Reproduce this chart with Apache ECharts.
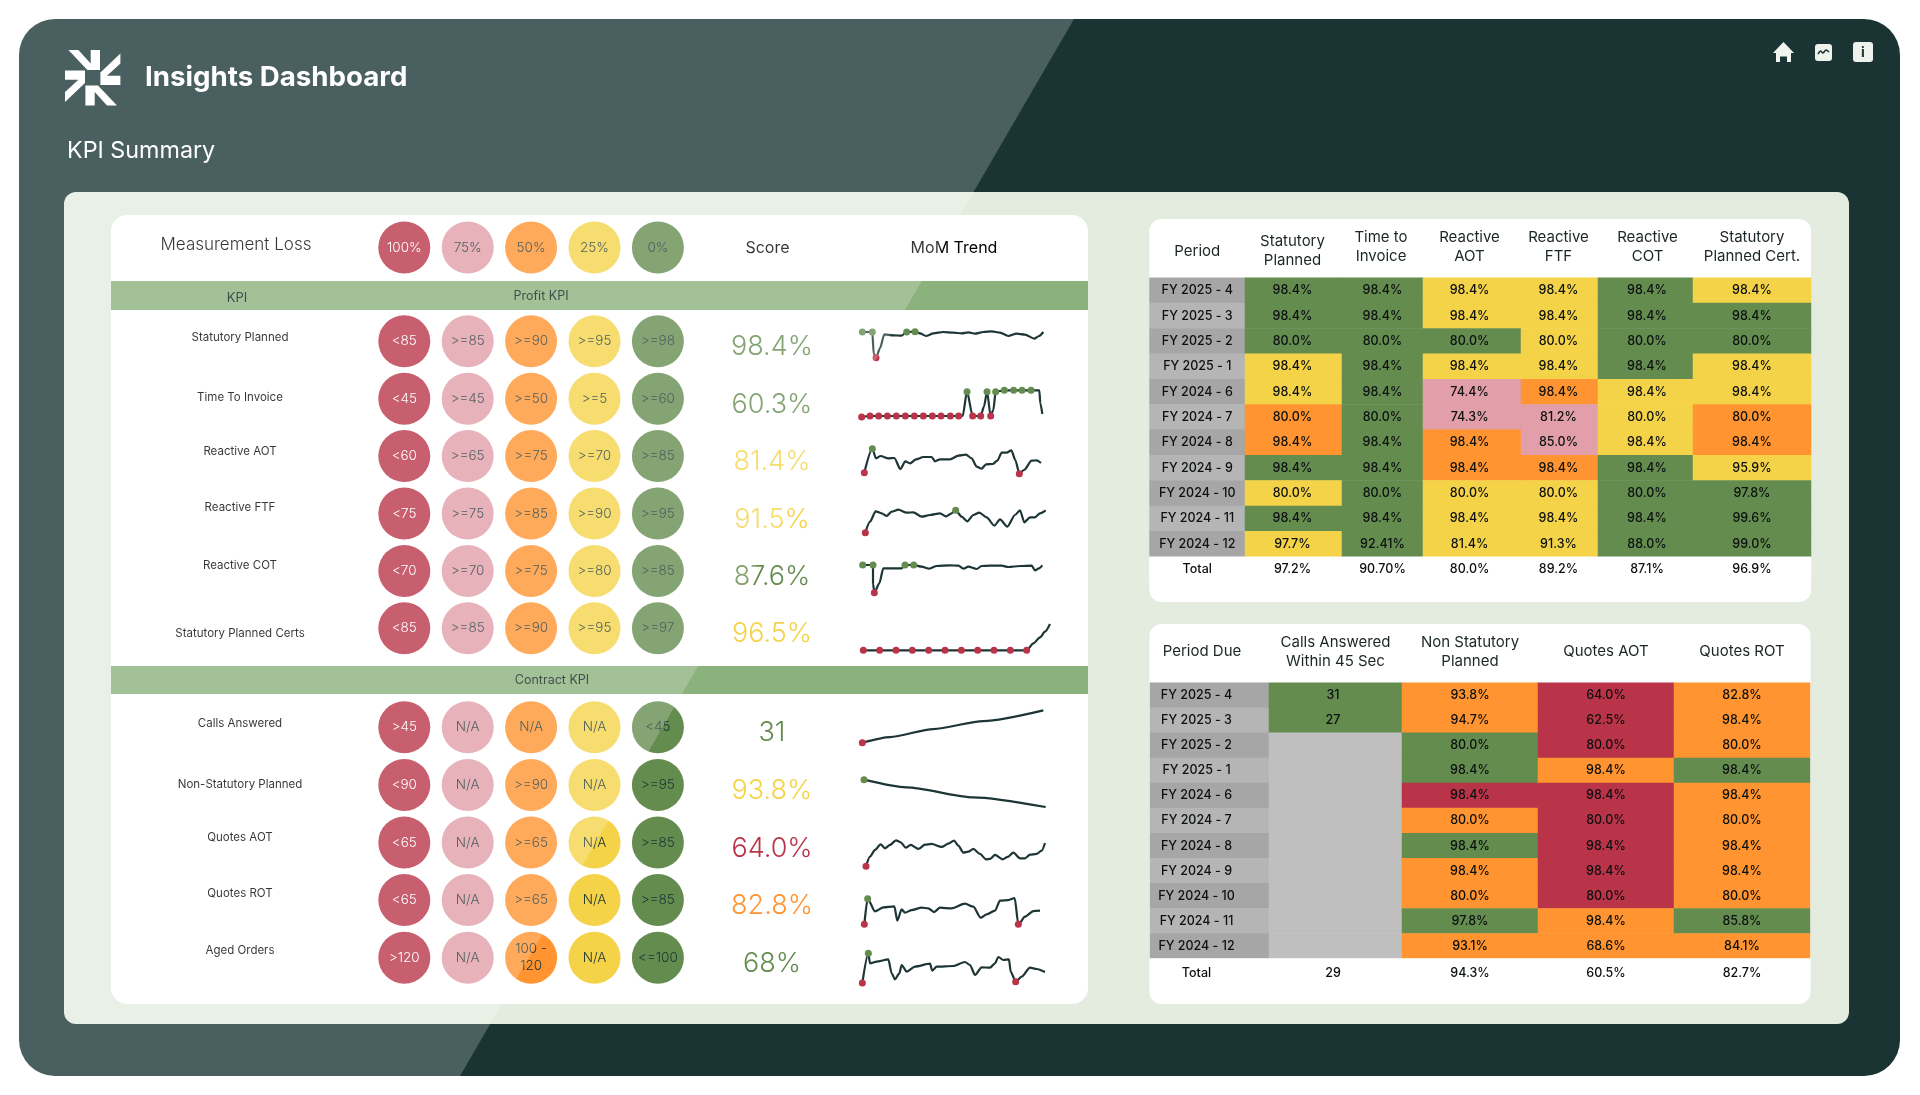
<!DOCTYPE html>
<html><head><meta charset="utf-8"><title>Insights Dashboard</title>
<style>html,body{margin:0;padding:0;background:#fff}#c{width:1920px;height:1095px}</style>
<script src="https://cdn.jsdelivr.net/npm/echarts@6/dist/echarts.min.js"></script></head>
<body><div id="c"></div>
<script>
// ---------- values ----------
const levels = ['100%','75%','50%','25%','0%'];
const profitKpis = ['Statutory Planned','Time To Invoice','Reactive AOT','Reactive FTF','Reactive COT','Statutory Planned Certs'];
const contractKpis = ['Calls Answered','Non-Statutory Planned','Quotes AOT','Quotes ROT','Aged Orders'];
const profitBands = [
 ['<85','>=85','>=90','>=95','>=98'],['<45','>=45','>=50','>=5','>=60'],['<60','>=65','>=75','>=70','>=85'],
 ['<75','>=75','>=85','>=90','>=95'],['<70','>=70','>=75','>=80','>=85'],['<85','>=85','>=90','>=95','>=97']];
const contractBands = [
 ['>45','N/A','N/A','N/A','<45'],['<90','N/A','>=90','N/A','>=95'],['<65','N/A','>=65','N/A','>=85'],
 ['<65','N/A','>=65','N/A','>=85'],['>120','N/A','100 -\n120','N/A','<=100']];
const profitScores = ['98.4%','60.3%','81.4%','91.5%','87.6%','96.5%'];
const profitScoreStatus = ['G','G','Y','Y','G','Y'];
const contractScores = ['31','93.8%','64.0%','82.8%','68%'];
const contractScoreStatus = ['G','Y','R','O','G'];

// trend points: [period position, reading, flag] (flag 1 = low marker, 2 = high marker)
const trendStatutory = [[67,84,2],[97,84,2],[101,20],[108,7,1],[120,35],[133,77],[160,74],[185,73],[200,84,2],[225,85,2],[240,80],[258,72],[280,80],[310,84],[340,82],[365,80],[385,83],[405,79],[430,84],[455,86],[480,82],[505,72],[530,79],[555,76],[583,64],[597,72],[610,84]];
const trendInvoice = [[65,9,1],[90,12,1],[116,12,1],[142,12,1],[169,12,1],[196,12,1],[223,12,1],[250,12,1],[277,12,1],[303,12,1],[331,12,1],[356,12,1],[368,12],[381,85,2],[398,12,1],[422,12,1],[432,40],[441,85,2],[452,12,1],[460,30],[467,85,2],[493,89,2],[521,89,2],[546,89,2],[573,89,2],[598,89],[601,50],[607,18]];
const trendAot = [[73,7,1],[97,79,2],[108,50],[122,57],[145,50],[163,51],[181,18],[196,41],[210,35],[228,47],[250,54],[275,54],[285,41],[300,47],[330,47],[355,58],[378,61],[395,50],[410,25],[425,19],[438,32],[458,33],[472,43],[485,67],[500,67],[514,74],[526,45],[538,4,1],[552,15],[575,43],[590,44],[603,36]];
const trendFtf = [[76,7,1],[90,40],[107,71],[125,65],[140,57],[155,70],[175,76],[200,67],[220,68],[245,55],[270,60],[300,65],[318,56],[335,65],[347,74,2],[365,55],[382,41],[400,60],[418,67],[440,53],[463,28],[480,47],[502,25],[525,60],[540,74],[553,38],[570,53],[585,53],[600,65],[617,74]];
const trendCot = [[68,90,2],[99,90,2],[99,35],[103,7,1],[118,35],[130,80],[185,80],[195,90,2],[221,90,2],[245,85],[268,79],[290,87],[330,89],[355,88],[370,79],[385,85],[410,78],[425,87],[450,88],[485,88],[505,84],[540,87],[575,88],[585,74],[597,80],[607,89]];
const trendCerts = [[70,4,1],[119,4,1],[168,4,1],[217,4,1],[266,4,1],[315,4,1],[364,4,1],[413,4,1],[462,4,1],[511,4,1],[560,4,1],[580,25],[600,43],[615,60],[630,83]];
const trendCalls = [[67,12,1],[150,29],[280,53],[430,77],[610,109]];
const trendNonStat = [[72,86,2],[200,63],[400,33],[617,4]];
const trendQuotesAot = [[78,6,1],[90,35],[105,55],[122,72],[135,60],[150,70],[168,84],[182,78],[197,62],[212,70],[235,58],[255,71],[275,73],[305,64],[325,74],[342,83],[355,68],[370,47],[385,50],[400,58],[420,43],[438,27],[450,28],[465,40],[488,27],[503,34],[520,47],[540,30],[555,30],[570,41],[590,43],[605,53],[615,76]];
const trendQuotesRot = [[73,7,1],[83,84,2],[105,46],[130,58],[163,61],[172,18],[185,52],[195,42],[215,50],[245,57],[265,55],[282,44],[300,57],[335,55],[375,69],[400,60],[422,27],[440,37],[465,48],[480,78],[505,80],[524,86],[535,7,1],[555,30],[580,47],[600,48]];
const trendAged = [[67,6,1],[85,95,2],[90,65],[110,70],[145,77],[155,35],[165,17],[178,35],[185,60],[200,40],[225,55],[270,64],[277,43],[290,55],[340,57],[375,69],[390,60],[405,30],[425,53],[450,52],[465,65],[475,84],[490,75],[507,77],[512,40],[527,10,1],[545,25],[570,52],[590,48],[615,39]];

const periods = ['FY 2025 - 4','FY 2025 - 3','FY 2025 - 2','FY 2025 - 1','FY 2024 - 6','FY 2024 - 7','FY 2024 - 8','FY 2024 - 9','FY 2024 - 10','FY 2024 - 11','FY 2024 - 12','Total'];

const statPlannedVals = ['98.4%','98.4%','80.0%','98.4%','98.4%','80.0%','98.4%','98.4%','80.0%','98.4%','97.7%','97.2%'];
const invoiceVals = ['98.4%','98.4%','80.0%','98.4%','98.4%','80.0%','98.4%','98.4%','80.0%','98.4%','92.41%','90.70%'];
const aotVals = ['98.4%','98.4%','80.0%','98.4%','74.4%','74.3%','98.4%','98.4%','80.0%','98.4%','81.4%','80.0%'];
const ftfVals = ['98.4%','98.4%','80.0%','98.4%','98.4%','81.2%','85.0%','98.4%','80.0%','98.4%','91.3%','89.2%'];
const cotVals = ['98.4%','98.4%','80.0%','98.4%','98.4%','80.0%','98.4%','98.4%','80.0%','98.4%','88.0%','87.1%'];
const certVals = ['98.4%','98.4%','80.0%','98.4%','98.4%','80.0%','98.4%','95.9%','97.8%','99.6%','99.0%','96.9%'];
const statPlannedStatus = ['G','G','G','Y','Y','O','O','G','Y','G','Y','T'];
const invoiceStatus = ['G','G','G','G','G','G','G','G','G','G','G','T'];
const aotStatus = ['Y','Y','G','Y','P','P','O','O','Y','Y','Y','T'];
const ftfStatus = ['Y','Y','Y','Y','O','P','P','O','Y','Y','Y','T'];
const cotStatus = ['G','G','G','G','Y','Y','Y','G','G','G','G','T'];
const certStatus = ['Y','G','G','Y','Y','O','O','Y','G','G','G','T'];

const callsVals = ['31','27','','','','','','','','','','29'];
const nonStatVals = ['93.8%','94.7%','80.0%','98.4%','98.4%','80.0%','98.4%','98.4%','80.0%','97.8%','93.1%','94.3%'];
const quotesAotVals = ['64.0%','62.5%','80.0%','98.4%','98.4%','80.0%','98.4%','98.4%','80.0%','98.4%','68.6%','60.5%'];
const quotesRotVals = ['82.8%','98.4%','80.0%','98.4%','98.4%','80.0%','98.4%','98.4%','80.0%','85.8%','84.1%','82.7%'];
const callsStatus = ['G','G','N','N','N','N','N','N','N','N','N','T'];
const nonStatStatus = ['O','O','G','G','R','O','G','O','O','G','O','T'];
const quotesAotStatus = ['R','R','R','O','R','R','R','R','R','O','O','T'];
const quotesRotStatus = ['O','O','O','G','O','O','O','O','O','G','O','T'];

// ---------- style / layout ----------
const FONT = 'Inter';
const PAL = {R:'#b93449',P:'#e29ea9',O:'#ff9430',Y:'#f5d349',G:'#648c4f',N:'#bfbfbf',T:'#ffffff'};
const levelColors = [PAL.R,PAL.P,PAL.O,PAL.Y,PAL.G];
const INK = '#1b3232', CELL_INK = '#0c1010';
const profitNameNudge = [-3.3,-1,-4.7,-6.3,-5.3,5];
const contractNameNudge = [-3.6,0,-5,-6.7,-6.7];

const grid = [], xAxis = [], yAxis = [], series = [];
function addGrid(g, x, y){
  const i = grid.length;
  grid.push(Object.assign({containLabel:false}, g));
  xAxis.push(Object.assign({gridIndex:i, axisLine:{show:false}, axisTick:{show:false}, splitLine:{show:false}, axisLabel:{show:false}}, x));
  yAxis.push(Object.assign({gridIndex:i, axisLine:{show:false}, axisTick:{show:false}, splitLine:{show:false}, axisLabel:{show:false}}, y));
  return i;
}
// threshold circles
function addCircles(top, height, rows, bands, nudge){
  const rich = {};
  if (nudge) nudge.forEach((d,k)=>{
    rich['r'+k] = {color:'#000000', fontFamily:FONT, fontSize:11.5, padding: d<0 ? [0,0,-2*d,0] : [2*d,0,0,0]};
  });
  const i = addGrid({left:372.6, width:317, top, height},
    {type:'category', data:levels},
    {type:'category', data:rows, inverse:true,
     axisLabel: nudge ? {show:true, align:'center', margin:132.6, interval:0,
        formatter:(v,k)=>'{r'+k+'|'+v+'}', rich} : {show:false}});
  const data = [];
  bands.forEach((b,r)=>b.forEach((t,c)=>data.push({value:[c,r], text:t, itemStyle:{color:levelColors[c], opacity:1},
    label:{color:c===0?'#ffffff':INK}})));
  series.push({type:'scatter', xAxisIndex:i, yAxisIndex:i, symbol:'circle', symbolSize:52, data, silent:true,
    itemStyle:{opacity:1},
    label:{show:true, position:'inside', fontFamily:FONT, fontSize:13.5, fontWeight:300, lineHeight:17, formatter:p=>p.data.text}});
}
addCircles(222, 51, ['Measurement Loss'], [levels], null);
addCircles(312.6, 344.4, profitKpis, profitBands, profitNameNudge);
addCircles(698.5, 288, contractKpis, contractBands, contractNameNudge);

// scores
function addScores(top, height, rows, scores, status){
  const i = addGrid({left:722, width:100, top, height},
    {type:'category', data:['Score']}, {type:'category', data:rows, inverse:true});
  series.push({type:'scatter', xAxisIndex:i, yAxisIndex:i, symbolSize:1, silent:true,
    itemStyle:{color:'transparent', opacity:1},
    data:scores.map((s,r)=>({value:[0,r], text:s, label:{color:PAL[status[r]]}})),
    label:{show:true, position:'inside', offset:[0,6], fontFamily:FONT, fontSize:27, fontWeight:300, formatter:p=>p.data.text}});
}
addScores(312.6, 344.4, profitKpis, profitScores, profitScoreStatus);
addScores(698.5, 288, contractKpis, contractScores, contractScoreStatus);

// trends: every sparkline shares a 0-810 position scale and a 0-120 reading scale
function addTrend(top, pts, lineW){
  const i = addGrid({left:840, width:270, top, height:40},
    {type:'value', min:0, max:810}, {type:'value', min:0, max:120});
  series.push({type:'line', xAxisIndex:i, yAxisIndex:i, silent:true, clip:false, smooth:0.25, smoothMonotone:'x',
    lineStyle:{color:'#1d3535', width:lineW||2.2}, showSymbol:true,
    data:pts.map(p=>({value:[p[0],p[1]],
      symbol:p[2]?'circle':'none', symbolSize:7,
      itemStyle:{color:p[2]===1?PAL.R:PAL.G}}))});
}
const trendRows = [
 [320,trendStatutory],[380,trendInvoice],[435,trendAot],[495,trendFtf],[555,trendCot],[611.7,trendCerts],
 [706.7,trendCalls],[768.3,trendNonStat],[828.3,trendQuotesAot],[886.7,trendQuotesRot],[945,trendAged]];
trendRows.forEach(r=>addTrend(r[0],r[1]));

// table columns: each column is its own heatmap on a shared period axis
function addColumn(left,right,top,height,header,gap,vals,statusOf,opt){
  opt = opt||{};
  const off = opt.off||[0,0], totalDrop = opt.totalDrop||0;
  const i = addGrid({left, width:right-left, top, height},
    {type:'category', data:[header], position:'top',
     axisLabel:{show:true, position:'top', margin:gap, verticalAlign:'middle', color:'#1c2626', fontFamily:FONT,
       fontSize:15, lineHeight:19, interval:0, overflow:'none', align:'center', padding:opt.hPad||0}},
    {type:'category', data:periods, inverse:true});
  series.push({type:'heatmap', xAxisIndex:i, yAxisIndex:i, silent:true, progressive:0,
    data:vals.map((v,r)=>({value:[0,r,r], text:v, itemStyle:{color:statusOf(r), borderWidth:0},
       label:{color:CELL_INK, offset: r===11 ? [off[0],off[1]+totalDrop] : off}})),
    label:{show:true, fontFamily:FONT, fontSize:12.5, fontWeight:500, formatter:p=>p.data.text}});
}
const firstColGrey = r => r===11 ? PAL.T : (r%2===0 ? '#a6a6a6' : '#b5b5b5');
const byStatus = s => r => PAL[s[r]];
const t1 = [1149.5,1245,1342,1423,1521,1598,1693,1811];
const T1Top = 277.7, T1H = 304.3;
addColumn(t1[0],t1[1],T1Top,T1H,'Period',26.7,periods,firstColGrey);
addColumn(t1[1],t1[2],T1Top,T1H,'Statutory\nPlanned',27,statPlannedVals,byStatus(statPlannedStatus),{off:[-1,0],hPad:[0,2,0,0]});
addColumn(t1[2],t1[3],T1Top,T1H,'Time to\nInvoice',31,invoiceVals,byStatus(invoiceStatus),{hPad:[0,3,0,0]});
addColumn(t1[3],t1[4],T1Top,T1H,'Reactive\nAOT',31,aotVals,byStatus(aotStatus),{off:[-2.4,0],hPad:[0,5,0,0]});
addColumn(t1[4],t1[5],T1Top,T1H,'Reactive\nFTF',31,ftfVals,byStatus(ftfStatus),{off:[-1,0],hPad:[0,2,0,0]});
addColumn(t1[5],t1[6],T1Top,T1H,'Reactive\nCOT',31,cotVals,byStatus(cotStatus),{off:[1.5,0],hPad:[0,0,0,4]});
addColumn(t1[6],t1[7],T1Top,T1H,'Statutory\nPlanned Cert.',31,certVals,byStatus(certStatus));
const t2 = [1150,1269,1402,1538,1674,1810];
const T2Top = 682.7, T2H = 301;
addColumn(t2[0],t2[1],T2Top,T2H,'Period Due',31,periods,firstColGrey,{off:[-13,0],totalDrop:2.5,hPad:[0,15,0,0]});
addColumn(t2[1],t2[2],T2Top,T2H,'Calls Answered\nWithin 45 Sec',31,callsVals,byStatus(callsStatus),{off:[-2.5,0],totalDrop:2.5});
addColumn(t2[2],t2[3],T2Top,T2H,'Non Statutory\nPlanned',31,nonStatVals,byStatus(nonStatStatus),{totalDrop:2.5});
addColumn(t2[3],t2[4],T2Top,T2H,'Quotes AOT',31,quotesAotVals,byStatus(quotesAotStatus),{totalDrop:2.5});
addColumn(t2[4],t2[5],T2Top,T2H,'Quotes ROT',31,quotesRotVals,byStatus(quotesRotStatus),{totalDrop:2.5});

// ---------- page furniture ----------
const card = (x,y,w,h,r,fill,z)=>({type:'rect', z:z||-5, silent:true, shape:{x,y,width:w,height:h,r}, style:{fill}});
const txt = (x,y,text,size,fill,weight,align)=>({type:'text', z:-1, silent:true, x, y,
  style:{text, fill, fontFamily:FONT, fontSize:size, fontWeight:weight||400, align:align||'center', verticalAlign:'middle'}});
const logoArm = [[-24.3,-27.7],[-14.3,-27.7],[-2,-14.3],[-2,-27.7],[7.3,-27.7],[7.3,-7.7],[-5.3,-7.7]];
const logo = [0,1,2,3].map(k=>({type:'polygon', z:-1, silent:true,
  shape:{points:logoArm.map(p=>{let [a,b]=p; for(let j=0;j<k;j++){[a,b]=[-b,a];} return [92.7+a,77.7+b];})},
  style:{fill:'#ffffff'}}));
const elements = [
  card(19,19,1881,1057,36,'#1a3434'),
  card(64,192,1785,832,12,'#e4ece0'),
  card(111,215,977,789,16,'#ffffff'),
  card(1149.5,219,661.5,383,12,'#ffffff'),
  card(1149.5,624,661,380,12,'#ffffff'),
  {type:'rect', z:-4, silent:true, shape:{x:111,y:281,width:977,height:29}, style:{fill:'#8bb17c'}},
  {type:'rect', z:-4, silent:true, shape:{x:111,y:666,width:977,height:28}, style:{fill:'#8bb17c'}},
  ...logo,
  txt(145,78,'Insights Dashboard',27.7,'#ffffff',700,'left'),
  txt(67,150.5,'KPI Summary',23.3,'#ffffff',400,'left'),
  txt(236,245,'Measurement Loss',17,'#000000',300),
  txt(767.5,248.5,'Score',16,'#000000',400),
  txt(954,248,'MoM Trend',16,'#000000',400),
  txt(237,298,'KPI',13,'#0c1c1c',400),
  txt(541,296,'Profit KPI',12.5,'#0c1c1c',400),
  txt(552,680,'Contract KPI',12.5,'#0c1c1c',400),
  // icons
  {type:'polygon', z:-1, silent:true, shape:{points:[[1783.5,42],[1794,53],[1791,53],[1791,62],[1787,62],[1787,56.5],[1780,56.5],[1780,62],[1776,62],[1776,53],[1773,53]]}, style:{fill:'#f2f4f0'}},
  card(1815,44,17,17,3,'#eef1ec',-1),
  {type:'polyline', z:0, silent:true, shape:{points:[[1818,54],[1820.5,51],[1823,53],[1826,50],[1829,52]],smooth:0.3}, style:{stroke:'#1a3434',lineWidth:1.5,fill:'none'}},
  card(1853,42,20,20,3,'#eef1ec',-1),
  {type:'text', z:0, silent:true, x:1863, y:52.5, style:{text:'i',fill:'#1a3434',fontFamily:FONT,fontSize:14,fontWeight:700,align:'center',verticalAlign:'middle'}},
  // translucent diagonal sheen across the left of the dashboard
  {type:'polygon', z:100, silent:true, shape:{points:[[19,19],[1074,19],[460,1076],[19,1076]]}, style:{fill:'rgba(255,255,255,0.21)'}}
];

const chart = echarts.init(document.getElementById('c'), null, {renderer:'canvas'});
chart.setOption({animation:false, backgroundColor:'#ffffff', textStyle:{fontFamily:FONT},
  graphic:{elements}, grid, xAxis, yAxis, series});
</script></body></html>
